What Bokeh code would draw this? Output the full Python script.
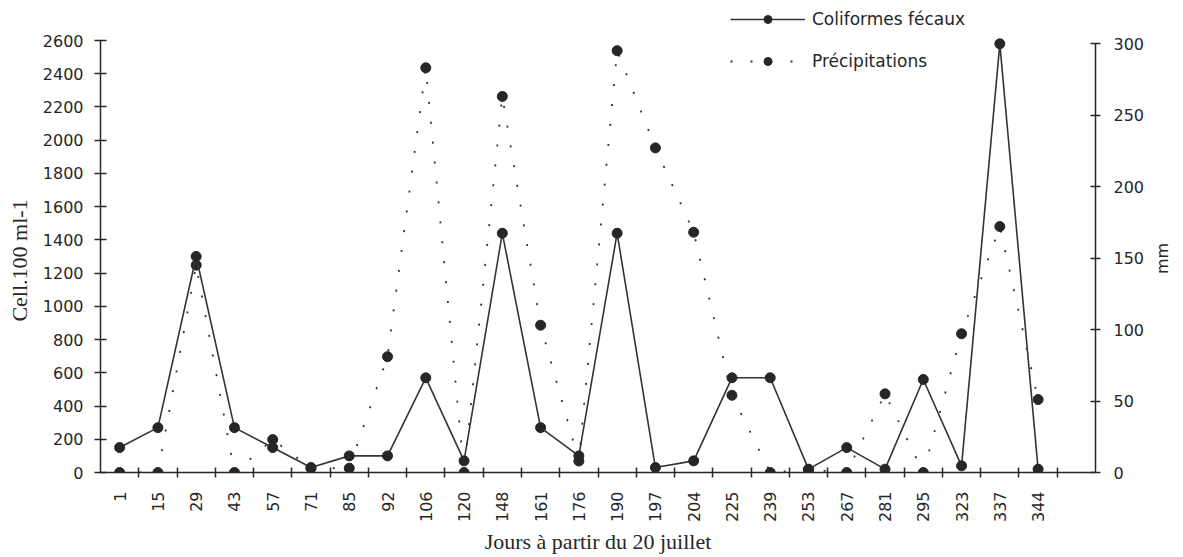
import math
from bokeh.plotting import figure
from bokeh.models import (Range1d, LinearAxis, FixedTicker, Legend, LegendItem,
                          ColumnDataSource, Label)
from bokeh.embed import file_html
from bokeh.resources import INLINE

# Sampling days (counted from 20 July)
jours = ["1", "15", "29", "43", "57", "71", "85", "92", "106", "120", "148", "161", "176",
         "190", "197", "204", "225", "239", "253", "267", "281", "295", "323", "337", "344"]

# Faecal coliforms, cells per 100 ml
coliformes = [150, 270, 1300, 270, 150, 30, 100, 100, 570, 70, 1440, 270, 100,
              1440, 30, 70, 570, 570, 20, 150, 20, 560, 40, 2580, 20]

# Rainfall, mm
precipitations = [0, 0, 145, 0, 23, 3, 3, 81, 283, 0, 263, 103, 8,
                  295, 227, 168, 54, 0, 2, 0, 55, 0, 97, 172, 51]

left_ticks = list(range(0, 2601, 200))
right_ticks = list(range(0, 301, 50))

INK = "#262626"
SANS = "DejaVu Sans"
SERIF = "Liberation Serif"

# The frame runs to the top edge so the legend fits inside it; the axis lines
# themselves stop at 2600 and 300.
FRAME_H = 472
left_top = 2600 * FRAME_H / 432
right_top = 300 * FRAME_H / 429

pos = list(range(len(jours)))
src = ColumnDataSource(dict(x=pos, col=coliformes, pre=precipitations))

p = figure(width=1183, height=557, output_backend="svg", toolbar_location=None,
           x_range=Range1d(-0.5, len(jours) + 0.5), y_range=Range1d(0, left_top),
           min_border_left=100, min_border_right=88, min_border_top=0, min_border_bottom=85,
           x_axis_label="Jours à partir du 20 juillet")
p.extra_y_ranges = {"mm": Range1d(0, right_top)}
p.outline_line_color = None
p.grid.visible = False
p.background_fill_color = "white"
p.border_fill_color = "white"

# x axis: labels centred on each sample, tick marks between samples
xa = p.xaxis[0]
xa.ticker = FixedTicker(ticks=pos, minor_ticks=[i + 0.5 for i in range(len(jours))])
xa.major_label_overrides = {i: j for i, j in zip(pos, jours)}
xa.major_label_orientation = math.pi / 2
xa.major_tick_in = 0
xa.major_tick_out = 0
xa.minor_tick_in = 5
xa.minor_tick_out = 5
xa.major_label_standoff = 14

# left axis
ya = p.yaxis[0]
ya.ticker = FixedTicker(ticks=left_ticks)
ya.bounds = (0, 2600)
ya.major_tick_in = 6
ya.major_tick_out = 6
ya.minor_tick_line_color = None
ya.major_label_standoff = 11

# right axis (rainfall)
ra = LinearAxis(y_range_name="mm", ticker=FixedTicker(ticks=right_ticks))
ra.bounds = (0, 300)
ra.major_tick_in = 5
ra.major_tick_out = 5
ra.minor_tick_line_color = None
ra.major_label_standoff = 13
p.add_layout(ra, "right")

for ax in (xa, ya, ra):
    ax.axis_line_color = INK
    ax.axis_line_width = 1.5
    ax.major_tick_line_color = INK
    ax.major_tick_line_width = 1.5
    ax.minor_tick_line_width = 1.5
    ax.major_label_text_font = SANS
    ax.major_label_text_font_size = "16px"
    ax.major_label_text_color = INK
xa.minor_tick_line_color = INK
xa.axis_label_text_font = SERIF
xa.axis_label_text_font_size = "22px"
xa.axis_label_text_font_style = "normal"
xa.axis_label_text_color = INK
xa.axis_label_standoff = 4

# vertical axis titles, set in the side panels next to the tick labels and
# centred on the drawn axis lines
p.add_layout(Label(x=5, y=212, x_units="screen", y_units="screen",
                   text="Cell.100 ml-1", angle=math.pi / 2,
                   text_align="center", text_baseline="middle",
                   text_font=SERIF, text_font_size="22px", text_color=INK), "left")
p.add_layout(Label(x=15, y=214, x_units="screen", y_units="screen",
                   text="mm", angle=math.pi / 2,
                   text_align="center", text_baseline="middle",
                   text_font=SANS, text_font_size="16px", text_color=INK), "right")

# rainfall: dotted line with dots
pl = p.line("x", "pre", source=src, y_range_name="mm", line_color="#333333",
            line_width=1.8, line_dash="2 18")
pc = p.scatter("x", "pre", source=src, y_range_name="mm", size=10,
               fill_color=INK, line_color=INK)

# faecal coliforms: solid line with dots
cl = p.line("x", "col", source=src, line_color="#333333", line_width=1.6)
cc = p.scatter("x", "col", source=src, size=10, fill_color=INK, line_color=INK)

legend = Legend(items=[LegendItem(label="Coliformes fécaux", renderers=[cl, cc]),
                       LegendItem(label="Précipitations", renderers=[pl, pc])],
                location=(630, 401), orientation="vertical",
                glyph_width=75, glyph_height=20, label_height=20, spacing=22,
                label_standoff=7, padding=0, margin=0,
                border_line_color=None, background_fill_alpha=0,
                label_text_font=SANS, label_text_font_size="17px",
                label_text_color=INK)
p.add_layout(legend, "center")

open("out.html", "w").write(file_html(p, INLINE))
